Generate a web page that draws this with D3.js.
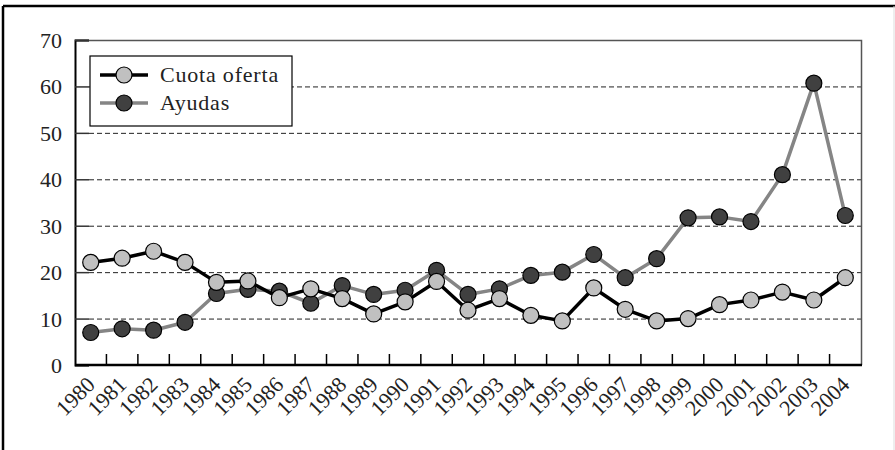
<!DOCTYPE html>
<html>
<head>
<meta charset="utf-8">
<script src="https://cdn.jsdelivr.net/npm/d3@7"></script>
<style>
  body { margin: 0; background: #fff; }
  svg text { font-family: "Liberation Serif", "Times New Roman", serif; fill: #222; }
</style>
</head>
<body>
<div id="chart"></div>
<script>
/* Cuota oferta vs Ayudas, 1980-2004 */

const years = ["1980","1981","1982","1983","1984","1985","1986","1987","1988","1989",
               "1990","1991","1992","1993","1994","1995","1996","1997","1998","1999",
               "2000","2001","2002","2003","2004"];

const cuotaOferta = [22.1, 23.0, 24.5, 22.1, 17.8, 18.1, 14.5, 16.4, 14.3, 11.0,
                     13.6, 18.0, 11.8, 14.3, 10.7, 9.5, 16.6, 12.0, 9.5, 10.0,
                     13.0, 14.0, 15.7, 14.0, 18.8];

const ayudas = [7.0, 7.8, 7.5, 9.2, 15.4, 16.3, 15.9, 13.3, 17.1, 15.2,
                16.1, 20.4, 15.2, 16.4, 19.3, 20.0, 23.8, 18.8, 22.9, 31.7,
                31.9, 30.9, 41.0, 60.7, 32.2];

const yTicks = [0, 10, 20, 30, 40, 50, 60, 70];

const series = [
    {name: "Cuota oferta", values: cuotaOferta, line: "#000", dot: "#c0c0c0"},
    {name: "Ayudas", values: ayudas, line: "#858585", dot: "#404040"}
];

const width = 895,
      height = 450,
      margin = ({top: 40, right: 34, bottom: 85, left: 75});

const serif = "Liberation Serif, Times New Roman, serif";

let svg = d3.select("#chart")
    .append("svg")
    .attr("width", width)
    .attr("height", height);

// outer frame
svg.append("line").attr("x1", 3).attr("x2", width).attr("y1", 6).attr("y2", 6)
    .attr("stroke", "#000").attr("stroke-width", 2.5);
svg.append("line").attr("x1", 3).attr("x2", 3).attr("y1", 6).attr("y2", height)
    .attr("stroke", "#000").attr("stroke-width", 2.5);
svg.append("line").attr("x1", 894).attr("x2", 894).attr("y1", 6).attr("y2", height)
    .attr("stroke", "#ddd").attr("stroke-width", 1);

let x = d3.scaleBand()
    .domain(years)
    .range([margin.left, width - margin.right]);

let y = d3.scaleLinear()
    .domain([0, 70])
    .range([height - margin.bottom, margin.top]);

const x0 = margin.left, x1 = width - margin.right;

// dashed grid
svg.append("g")
    .selectAll("line")
    .data(yTicks.filter(d => d > 0 && d < 70))
    .join("line")
    .attr("x1", x0 + 14)
    .attr("x2", x1)
    .attr("y1", d => y(d) + 0.5)
    .attr("y2", d => y(d) + 0.5)
    .attr("stroke", "#222")
    .attr("stroke-dasharray", "5,3");

// top and right border of plot
svg.append("path")
    .attr("d", `M${x0},${y(70) + 0.5}H${x1 + 0.5}V${y(0)}`)
    .attr("fill", "none")
    .attr("stroke", "#555")
    .attr("stroke-width", 1.5);

// y axis, ticks pointing inward
const yAxis = g => g
    .attr("transform", `translate(${x0},0)`)
    .call(d3.axisLeft(y).tickValues(yTicks).tickSize(-14).tickPadding(13))
    .attr("font-family", serif)
    .attr("font-size", 22)
    .call(g => g.select(".domain").attr("stroke", "#000").attr("stroke-width", 2))
    .call(g => g.selectAll(".tick line").attr("stroke", "#333").attr("stroke-width", 1.5))
    .call(g => g.selectAll(".tick text")
        .attr("fill", "#222")
        .attr("dy", "0.34em"));

// x axis, ticks at band boundaries
const xAxis = g => g
    .attr("transform", `translate(0,${y(0)})`)
    .call(g => g.append("line")
        .attr("x1", x0).attr("x2", x1 + 1)
        .attr("stroke", "#000").attr("stroke-width", 2.5))
    .call(g => g.selectAll(".xt")
        .data(years.slice(1))
        .join("line")
        .attr("class", "xt")
        .attr("x1", d => x(d)).attr("x2", d => x(d))
        .attr("y1", 0).attr("y2", -11)
        .attr("stroke", "#000").attr("stroke-width", 1.5))
    .call(g => g.selectAll(".xl")
        .data(years)
        .join("text")
        .attr("class", "xl")
        .attr("text-anchor", "end")
        .attr("font-family", serif)
        .attr("font-size", 22)
        .attr("transform", d => `translate(${x(d) + x.bandwidth() / 2 + 5.5},${21}) rotate(-45)`)
        .text(d => d));

svg.append("g").call(yAxis);
svg.append("g").call(xAxis);

const line = d3.line()
    .x((d, i) => x(years[i]) + x.bandwidth() / 2)
    .y(d => y(d));

// draw Ayudas first, then Cuota oferta on top
for (let s of [series[1], series[0]]) {
    svg.append("path")
        .datum(s.values)
        .attr("fill", "none")
        .attr("stroke", s.line)
        .attr("stroke-width", 3.5)
        .attr("stroke-linejoin", "round")
        .attr("d", line);

    svg.append("g")
        .selectAll("circle")
        .data(s.values)
        .join("circle")
        .attr("cx", (d, i) => x(years[i]) + x.bandwidth() / 2)
        .attr("cy", d => y(d))
        .attr("r", 8)
        .attr("fill", s.dot)
        .attr("stroke", "#000")
        .attr("stroke-width", 1.2);
}

// legend
let legend = svg.append("g").attr("transform", "translate(90,56)");
legend.append("rect")
    .attr("width", 202).attr("height", 70)
    .attr("fill", "#fff").attr("stroke", "#000").attr("stroke-width", 1.2);

let item = legend.selectAll(".item")
    .data(series)
    .join("g")
    .attr("class", "item")
    .attr("transform", (d, i) => `translate(0,${19 + i * 28})`);

item.append("line")
    .attr("x1", 10).attr("x2", 58)
    .attr("stroke", d => d.line).attr("stroke-width", 3.5);
item.append("circle")
    .attr("cx", 34).attr("r", 8)
    .attr("fill", d => d.dot).attr("stroke", "#000").attr("stroke-width", 1.2);
item.append("text")
    .attr("x", 70).attr("dy", "0.32em")
    .attr("font-family", serif)
    .attr("font-size", 22)
    .attr("letter-spacing", 0.8)
    .text(d => d.name);
</script>
</body>
</html>
